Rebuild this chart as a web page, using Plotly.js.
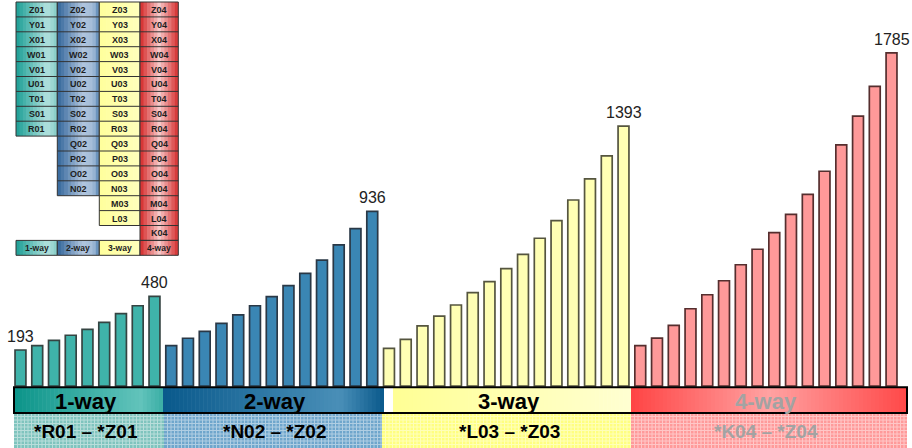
<!DOCTYPE html>
<html><head><meta charset="utf-8">
<script src="https://cdn.plot.ly/plotly-3.0.1.min.js"></script>
<style>html,body{margin:0;padding:0;background:#fff}#chart{width:912px;height:448px}</style>
</head><body><div id="chart"></div>
<script>
// ---------- DATA ----------
const cat1 = ['R01','S01','T01','U01','V01','W01','X01','Y01','Z01'];
const val1 = [193,216,245,272,304,341,388,430,480];
const cat2 = ['N02','O02','P02','Q02','R02','S02','T02','U02','V02','W02','X02','Y02','Z02'];
const val2 = [216,256,293,336,381,430,479,538,604,675,756,843,936];
const cat3 = ['L03','M03','N03','O03','P03','Q03','R03','S03','T03','U03','V03','W03','X03','Y03','Z03'];
const val3 = [202,250,322,374,434,500,559,629,706,792,886,997,1110,1233,1393];
const cat4 = ['K04','L04','M04','N04','O04','P04','Q04','R04','S04','T04','U04','V04','W04','X04','Y04','Z04'];
const val4 = [216,257,325,414,489,564,650,733,822,920,1027,1151,1292,1446,1606,1785];
const groupNames = ['1-way','2-way','3-way','4-way'];
const rangeLabels = ['*R01 – *Z01','*N02 – *Z02','*L03 – *Z03','*K04 – *Z04'];

// ---------- STYLE ----------
const W = 912, H = 448;
const px = x => x / W, py = y => 1 - y / H;
const FONT = 'Liberation Sans, Arial, sans-serif';
const cats = [cat1, cat2, cat3, cat4];
const vals = [val1, val2, val3, val4];
const barFill = ['#3fb3aa', '#3a86b4', '#ffffb4', '#ff9999'];
const barLine = ['#354442', '#2a3846', '#55553f', '#552e2e'];

function hex2rgb(h) { return [1, 3, 5].map(i => parseInt(h.substr(i, 2), 16)); }
function colAt(stops, t) {
  for (let i = 0; i < stops.length - 1; i++) {
    const [t0, c0] = stops[i], [t1, c1] = stops[i + 1];
    if (t <= t1) {
      const f = (t - t0) / ((t1 - t0) || 1);
      const a = hex2rgb(c0), b = hex2rgb(c1);
      return 'rgb(' + a.map((v, k) => Math.round(v + (b[k] - v) * f)).join(',') + ')';
    }
  }
  return stops[stops.length - 1][1];
}
const shapes = [];
function grad(x0, x1, yRanges, stops, step) {
  const n = Math.max(1, Math.round((x1 - x0) / step));
  const w = (x1 - x0) / n;
  for (let i = 0; i < n; i++) {
    const a = x0 + i * w, b = Math.min(x1, a + w + 0.6);
    let p = '';
    yRanges.forEach(([y0, y1]) => {
      p += `M${px(a)},${py(y0)}L${px(b)},${py(y0)}L${px(b)},${py(y1)}L${px(a)},${py(y1)}Z`;
    });
    shapes.push({type: 'path', xref: 'paper', yref: 'paper', path: p,
      fillcolor: colAt(stops, (i + 0.5) / n), line: {width: 0}, layer: 'above'});
  }
}
function rect(x0, x1, y0, y1, fill, lineColor, lw) {
  shapes.push({type: 'rect', xref: 'paper', yref: 'paper', x0: px(x0), x1: px(x1), y0: py(y1), y1: py(y0),
    fillcolor: fill || 'rgba(0,0,0,0)', line: {color: lineColor || 'rgba(0,0,0,0)', width: lw || 0}, layer: 'above'});
}
function gridPath(x0, x1, y0, y1, step, color, op) {
  let p = '';
  for (let x = x0 + step; x < x1; x += step) p += `M${px(x)},${py(y0)}L${px(x)},${py(y1)}`;
  for (let y = y0 + step; y < y1; y += step) p += `M${px(x0)},${py(y)}L${px(x1)},${py(y)}`;
  shapes.push({type: 'path', xref: 'paper', yref: 'paper', path: p, line: {color: color, width: 1}, opacity: op, layer: 'above'});
}

const annotations = [];
function txt(x, y, t, size, color) {
  annotations.push({xref: 'paper', yref: 'paper', x: px(x), y: py(y), text: t, showarrow: false,
    xanchor: 'center', yanchor: 'middle', font: {family: FONT, size: size, color: color}});
}

// ---------- TABLE (top-left) ----------
const colX = [16, 57.3, 99.3, 140, 178.3];
const rowTop = 2, rowH = 14.9;
const colStops = [
  [[0, '#1c9e95'], [0.75, '#b3e2de'], [1, '#84ccc6']],
  [[0, '#32659a'], [0.6, '#b0c5de'], [0.85, '#a3bcd8'], [1, '#5584b2']],
  [[0, '#ffff9c'], [1, '#ffffbc']],
  [[0, '#d42828'], [0.5, '#f7c8c8'], [1, '#d42e2e']]
];
const legTop = rowTop + 16 * rowH, legBot = legTop + rowH;
for (let k = 0; k < 4; k++) {
  const n = cats[k].length;
  const cellBot = rowTop + n * rowH;
  grad(colX[k], colX[k + 1], [[rowTop, cellBot], [legTop, legBot]], colStops[k], 3.4);
  let p = '';
  for (let r = 0; r <= n; r++) {
    const y = rowTop + r * rowH;
    p += `M${px(colX[k])},${py(y)}L${px(colX[k + 1])},${py(y)}`;
  }
  p += `M${px(colX[k])},${py(rowTop)}L${px(colX[k])},${py(cellBot)}`;
  p += `M${px(colX[k + 1])},${py(rowTop)}L${px(colX[k + 1])},${py(cellBot)}`;
  shapes.push({type: 'path', xref: 'paper', yref: 'paper', path: p, line: {color: '#333', width: 1}, layer: 'above'});
  rect(colX[k], colX[k + 1], legTop, legBot, null, '#333', 1);
  const rev = cats[k].slice().reverse();
  const cx = (colX[k] + colX[k + 1]) / 2;
  rev.forEach((c, r) => txt(cx, rowTop + (r + 0.5) * rowH + 0.5, '<b>' + c + '</b>', 9, '#1e1e1e'));
  txt(cx, (legTop + legBot) / 2 + 0.5, '<b>' + groupNames[k] + '</b>', 8.5, '#1e1e1e');
}

// ---------- BOTTOM BANDS ----------
const bandTop = 387.3, bandMid = 413, bandBot = 448;
const seg1 = [[14, 163], [163, 384], [393, 631], [631, 907]];
const segStops = [
  [[0, '#0b9489'], [0.85, '#62c3bb'], [1, '#3aaea5']],
  [[0, '#09598b'], [0.8, '#4a8fb8'], [1, '#09598b']],
  [[0, '#ffff94'], [1, '#ffffd2']],
  [[0, '#ff4444'], [0.5, '#ffa2a2'], [1, '#ff4848']]
];
const seg2 = [[14, 164], [164, 382], [382, 631], [631, 907]];
const seg2Fill = ['#7fc4be', '#6fa6cc', '#ffff80', '#ff9a9a'];
const textX = [86, 275, 509, 766];
const textCol = ['#000', '#000', '#000', '#a3a3a3'];
for (let k = 0; k < 4; k++) {
  rect(seg2[k][0], seg2[k][1], bandMid, bandBot, seg2Fill[k]);
  gridPath(seg2[k][0], seg2[k][1], bandMid, bandBot, 3.5, '#ffffff', 0.45);
}
for (let k = 0; k < 4; k++) grad(seg1[k][0], seg1[k][1], [[bandTop, bandMid]], segStops[k], 4);
rect(14, 907, bandTop, bandMid, null, '#000', 2);
for (let k = 0; k < 4; k++) {
  txt(textX[k], 401, '<b>' + groupNames[k] + '</b>', 22, textCol[k]);
  txt(textX[k], 431, '<b>' + rangeLabels[k] + '</b>', 19, textCol[k]);
}

// ---------- BARS ----------
const traces = cats.map((c, k) => ({
  type: 'bar', x: c, y: vals[k], marker: {color: barFill[k], line: {color: barLine[k], width: 1.7}},
  hoverinfo: 'x+y', showlegend: false
}));
// value labels: first bar and last bar of each group
const labelPts = [[cat1[0], val1[0]]].concat(cats.map((c, k) => [c[c.length - 1], vals[k][vals[k].length - 1]]));
labelPts.forEach(([c, v]) => annotations.push({xref: 'x', yref: 'y', x: c, y: v, text: String(v), showarrow: false,
  xanchor: 'center', yanchor: 'bottom', yshift: 3, font: {family: FONT, size: 16, color: '#222'}}));

const yLow = -7, yPerPx = 5.36;
const layout = {
  width: W, height: H, margin: {l: 0, r: 0, t: 0, b: 0},
  paper_bgcolor: '#fff', plot_bgcolor: '#fff',
  barmode: 'overlay', bargap: 0.35,
  xaxis: {type: 'category', domain: [px(12.1), px(899.9)], range: [-0.5, 52.5],
    showgrid: false, zeroline: false, showticklabels: false, showline: false, ticks: ''},
  yaxis: {domain: [py(bandTop), 1], range: [yLow, yLow + bandTop * yPerPx],
    showgrid: false, zeroline: false, showticklabels: false, showline: false, ticks: ''},
  shapes: shapes, annotations: annotations
};
Plotly.newPlot('chart', traces, layout, {displayModeBar: false, staticPlot: true});
</script></body></html>
